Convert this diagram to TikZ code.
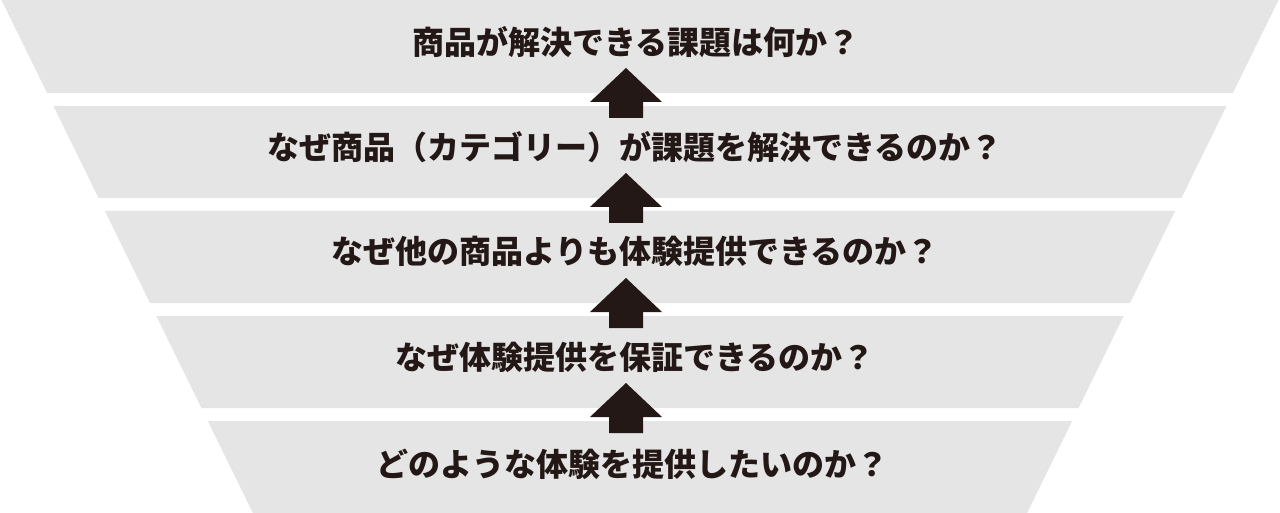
\documentclass[tikz,border=0pt]{standalone}
\usepackage{fontspec}
\newfontfamily\jp{Noto Sans CJK JP}
\definecolor{bandgray}{HTML}{E5E5E5}
\definecolor{ink}{HTML}{231815}
\tikzset{
  lbl/.style={anchor=base, inner sep=0pt, text=ink, font=\jp\bfseries\fontsize{32}{32}\selectfont},
  bandfill/.style={fill=bandgray},
  blockarrow/.style={fill=ink}
}
\begin{document}
\begin{tikzpicture}[x=1pt,y=-1pt]
\useasboundingbox (0,0) rectangle (1280,513);
% funnel bands
\foreach \a/\b in {0/93,106/198,211/303,316/408,421/513}{
  \fill[bandfill] ({1.5+0.49*\a},\a) -- ({1278.5-0.49*\a},\a) -- ({1278.5-0.49*\b},\b) -- ({1.5+0.49*\b},\b) -- cycle;
}
% labels
\node[lbl] (q1) at (636,55) {商品が解決できる課題は何か？};
\node[lbl] (q2) at (635,160) {なぜ商品（カテゴリー）が課題を解決できるのか？};
\node[lbl] (q3) at (635,263) {なぜ他の商品よりも体験提供できるのか？};
\node[lbl] (q4) at (635,369) {なぜ体験提供を保証できるのか？};
\node[lbl] (q5) at (632,476) {どのような体験を提供したいのか？};
% block arrows
\foreach \t in {68,173,278,383}{
  \coordinate (tip) at (626,\t);
  \fill[blockarrow] (tip) -- ++(36,34) -- ++(-19,0) -- ++(0,16) -- ++(-34,0) -- ++(0,-16) -- ++(-19,0) -- cycle;
}
\end{tikzpicture}
\end{document}
